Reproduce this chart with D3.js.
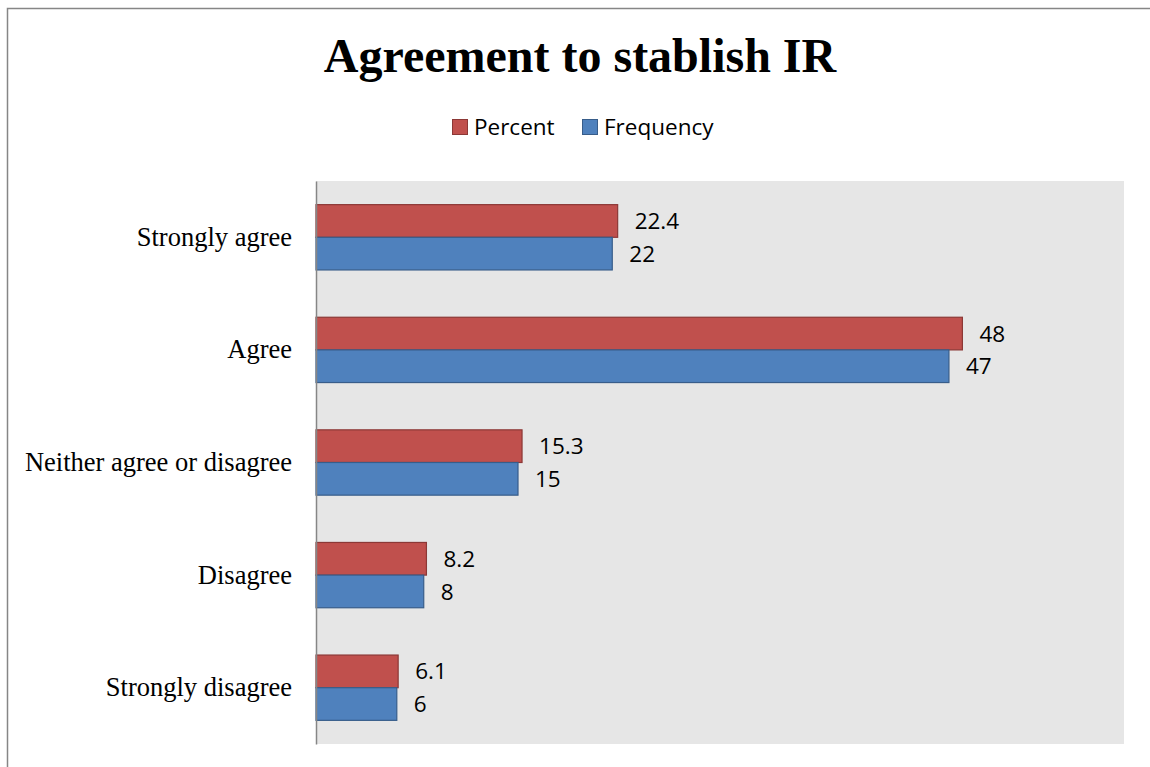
<!DOCTYPE html>
<html>
<head>
<meta charset="utf-8">
<script src="https://cdn.jsdelivr.net/npm/d3@7"></script>
<style>
  body { margin: 0; background: #fff; }
</style>
</head>
<body>
<div id="chart"></div>
<script>
// chart data
const categories = ["Strongly agree", "Agree", "Neither agree or disagree", "Disagree", "Strongly disagree"];
const seriesNames = ["Percent", "Frequency"];
const percentValues = [22.4, 48, 15.3, 8.2, 6.1];
const frequencyValues = [22, 47, 15, 8, 6];

const colors = {Percent: "#C0504D", Frequency: "#4F81BD"};
const strokes = {Percent: "#8C3836", Frequency: "#385D8A"};

const W = 1150, H = 767;
const margin = {top: 181, right: 26, bottom: 23, left: 316};
const width = W - margin.left - margin.right;
const height = H - margin.top - margin.bottom;

const svg = d3.select("#chart").append("svg")
    .attr("width", W)
    .attr("height", H);

// outer chart border (only top and left are inside the frame)
svg.append("rect")
    .attr("x", 7.5).attr("y", 8.5)
    .attr("width", 1160).attr("height", 780)
    .attr("fill", "none")
    .attr("stroke", "#868686")
    .attr("stroke-width", 1.5);

// title
svg.append("text")
    .attr("x", 580).attr("y", 72)
    .attr("text-anchor", "middle")
    .style("font-family", "'Liberation Serif', 'Times New Roman', serif")
    .style("font-weight", "bold")
    .style("font-size", "48px")
    .text("Agreement to stablish IR");

// legend
const legend = svg.append("g").attr("class", "legend");
const legendItems = [{name: "Percent", x: 452}, {name: "Frequency", x: 582}];
legendItems.forEach(item => {
    legend.append("rect")
        .attr("x", item.x + 0.5).attr("y", 119.5)
        .attr("width", 15).attr("height", 15)
        .attr("fill", colors[item.name])
        .attr("stroke", strokes[item.name]);
    legend.append("text")
        .attr("x", item.x + 22).attr("y", 135)
        .style("font-family", "'Open Sans', sans-serif")
        .style("font-size", "22.5px")
        .attr("fill", "#000")
        .text(item.name);
});

const g = svg.append("g")
    .attr("transform", "translate(" + margin.left + "," + margin.top + ")");

// plot area background
g.append("rect")
    .attr("width", width).attr("height", height)
    .attr("fill", "#E6E6E6");

const xScale = d3.scaleLinear().domain([0, 60]).range([0, width]);
const yScale = d3.scaleBand().domain(categories).range([0, height])
    .paddingInner(0.42).paddingOuter(0.21);
const subScale = d3.scaleBand().domain(seriesNames).range([0, yScale.bandwidth()]);

const rows = categories.map((c, i) => ({
    category: c,
    values: [
        {series: "Percent", value: percentValues[i]},
        {series: "Frequency", value: frequencyValues[i]}
    ]
}));

const rowG = g.selectAll(".rowG")
    .data(rows)
    .join("g")
    .attr("class", "rowG")
    .attr("transform", d => "translate(0," + yScale(d.category) + ")");

rowG.selectAll(".bar")
    .data(d => d.values)
    .join("rect")
    .attr("class", "bar")
    .attr("x", 0)
    .attr("y", d => subScale(d.series))
    .attr("width", d => xScale(d.value))
    .attr("height", subScale.bandwidth())
    .attr("fill", d => colors[d.series])
    .attr("stroke", d => strokes[d.series])
    .attr("stroke-width", 1.2);

rowG.selectAll(".label")
    .data(d => d.values)
    .join("text")
    .attr("class", "label")
    .attr("x", d => xScale(d.value) + 17)
    .attr("y", d => subScale(d.series) + subScale.bandwidth() / 2)
    .attr("dy", "0.36em")
    .style("font-family", "'Open Sans', sans-serif")
    .style("font-size", "22.5px")
    .text(d => d.value);

// y axis
const yAxis = g.append("g").call(d3.axisLeft(yScale).tickSize(0).tickPadding(24));
yAxis.select(".domain").attr("stroke", "#868686").attr("stroke-width", 1.5);
yAxis.selectAll(".tick text")
    .style("font-family", "'Liberation Serif', 'Times New Roman', serif")
    .style("font-size", "26.5px")
    .attr("fill", "#000");
</script>
</body>
</html>
